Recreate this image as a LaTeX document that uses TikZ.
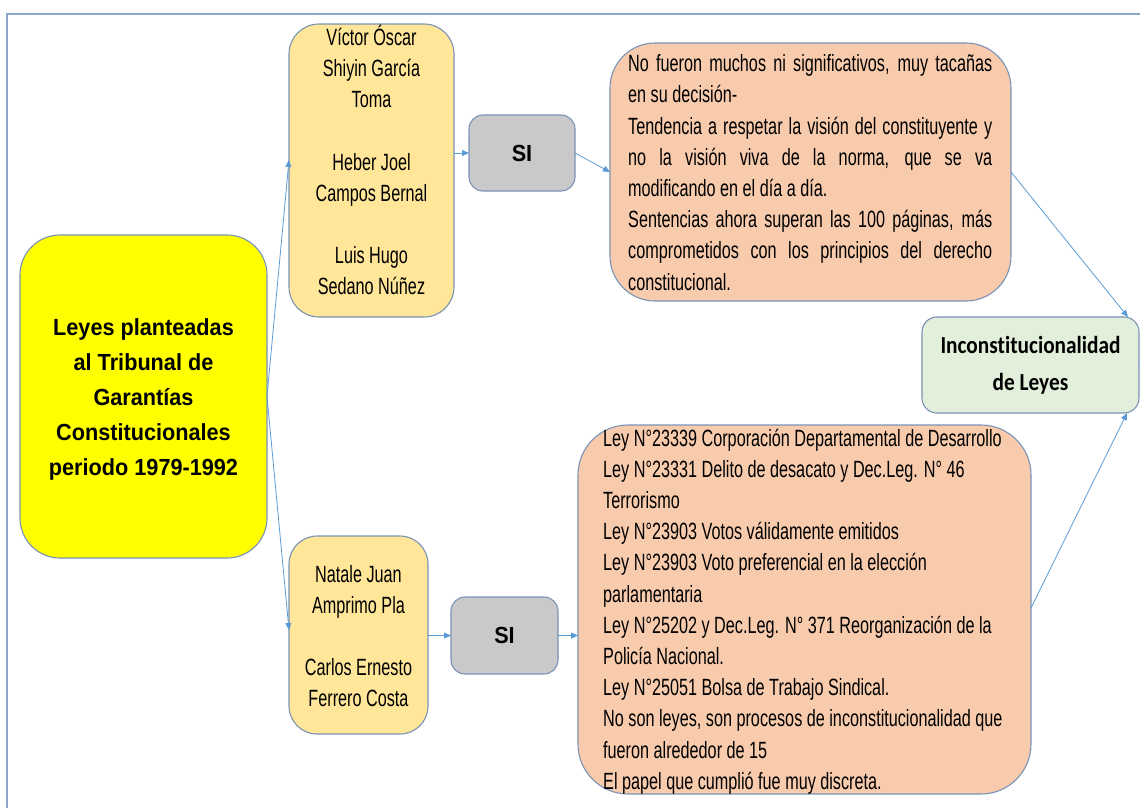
\documentclass[tikz,border=0pt]{standalone}
\usepackage{fontspec}
\setmainfont{Liberation Sans}
\newfontfamily\narrowf{Liberation Sans}[FakeStretch=0.69]
\newfontfamily\yelf{Liberation Sans}[FakeStretch=0.93]
\newfontfamily\greenf{Carlito}[FakeStretch=0.87,Ligatures=NoCommon]
\usetikzlibrary{arrows.meta,calc}
\definecolor{bordc}{HTML}{7A93B5}
\definecolor{framec}{HTML}{8AA5C8}
\definecolor{arrc}{HTML}{5B9BD5}
\definecolor{yel}{HTML}{FFFF00}
\definecolor{gold}{HTML}{FFE699}
\definecolor{grayb}{HTML}{C9C9C9}
\definecolor{orng}{HTML}{F8CBAD}
\definecolor{grn}{HTML}{E2EFDA}
\tikzset{
  box/.style={draw=bordc, line width=1.1pt, inner sep=0pt, outer sep=0pt},
  arr/.style={draw=arrc, line width=0.8pt, -{Triangle[length=7pt,width=6pt]}},
  nametxt/.style={inner sep=0pt, align=center, font=\narrowf\fontsize{23.5}{31.2}\selectfont},
  bodytxt/.style={inner sep=0pt, align=left, font=\narrowf\fontsize{23.5}{31.2}\selectfont},
}
\begin{document}
\begin{tikzpicture}[x=1pt,y=-1pt]
\useasboundingbox (0,0) rectangle (1140,807);
\draw[framec, line width=1.2pt] (1145,14) -- (7,14) -- (7,812);
% boxes
\node[box, fill=yel, minimum width=247pt, minimum height=323pt, rounded corners=40pt] (ley) at (143.5,396.5) {};
\node[box, fill=gold, minimum width=165pt, minimum height=293pt, rounded corners=30pt] (n1) at (371.5,170.5) {};
\node[box, fill=grayb, minimum width=106pt, minimum height=76pt, rounded corners=14pt,
  font=\yelf\bfseries\fontsize{23.3}{28}\selectfont] (si1) at (522,153) {SI};
\node[box, fill=orng, minimum width=401pt, minimum height=258pt, rounded corners=45pt] (o1) at (810.5,172) {};
\node[box, fill=grn, minimum width=217pt, minimum height=96pt, rounded corners=15pt, align=center,
  font=\greenf\bfseries\fontsize{24.5}{37}\selectfont] (gr) at (1030.5,365) {Inconstitucionalidad\\de Leyes};
\node[box, fill=gold, minimum width=139pt, minimum height=198pt, rounded corners=28pt] (n2) at (358.5,635) {};
\node[box, fill=grayb, minimum width=107pt, minimum height=77pt, rounded corners=14pt,
  font=\yelf\bfseries\fontsize{23.3}{28}\selectfont] (si2) at (504.5,635.5) {SI};
\node[box, fill=orng, minimum width=453pt, minimum height=369pt, rounded corners=50pt] (o2) at (804.5,609.5) {};
% texts
\node[inner sep=0pt, align=center, font=\yelf\bfseries\fontsize{23.3}{35}\selectfont] (leyt) at (143.5,399.5)
  {Leyes planteadas\\al Tribunal de\\Garantías\\Constitucionales\\periodo 1979-1992};
\node[nametxt] (n1t) at (371.5,160) {Víctor Óscar\\Shiyin García\\Toma\\[31.2pt]Heber Joel\\Campos Bernal\\[31.2pt]Luis Hugo\\Sedano Núñez};
\node[nametxt] (n2t) at (358.5,636) {Natale Juan\\Amprimo Pla\\[31.2pt]Carlos Ernesto\\Ferrero Costa};
\node[bodytxt, anchor=west] (o1t) at (628,172.5) {%
\makebox[364pt][s]{No fueron muchos ni significativos, muy tacañas}\\
en su decisión-\\
\makebox[364pt][s]{Tendencia a respetar la visión del constituyente y}\\
\makebox[364pt][s]{no la visión viva de la norma, que se va}\\
modificando en el día a día.\\
\makebox[364pt][s]{Sentencias ahora superan las 100 páginas, más}\\
\makebox[364pt][s]{comprometidos con los principios del derecho}\\
constitucional.};
\node[bodytxt, anchor=west] (o2t) at (603,611.5) {%
Ley N°23339 Corporación Departamental de Desarrollo\\
Ley N°23331 Delito de desacato y Dec.Leg. N° 46\\
Terrorismo\\
Ley N°23903 Votos válidamente emitidos\\
Ley N°23903 Voto preferencial en la elección\\
parlamentaria\\
Ley N°25202 y Dec.Leg. N° 371 Reorganización de la\\
Policía Nacional.\\
Ley N°25051 Bolsa de Trabajo Sindical.\\
No son leyes, son procesos de inconstitucionalidad que\\
fueron alrededor de 15\\
El papel que cumplió fue muy discreta.};
% connectors
\coordinate (ext) at (1160,362);
\draw[arr] (ley.east) -- ($(n1.west)+(0,-10.5)$);
\draw[arr] (ley.east) -- ($(n2.west)+(0,-5)$);
\draw[arr] (n1.east |- si1.west) -- (si1.west);
\draw[arr] (si1.east) -- (o1.west);
\draw[arr] (o1.east) -- ($(gr.north east)+(-11,0)$);
\draw[arr] (n2.east |- si2.west) -- (si2.west);
\draw[arr] (si2.east) -- (si2.east -| o2.west);
\draw[arr] ($(o2.east)+(0,-1.5)$) -- ($(gr.south east)+(-12,0)$);
\draw[arr] (ext) -- (ext -| gr.east);
\end{tikzpicture}
\end{document}
